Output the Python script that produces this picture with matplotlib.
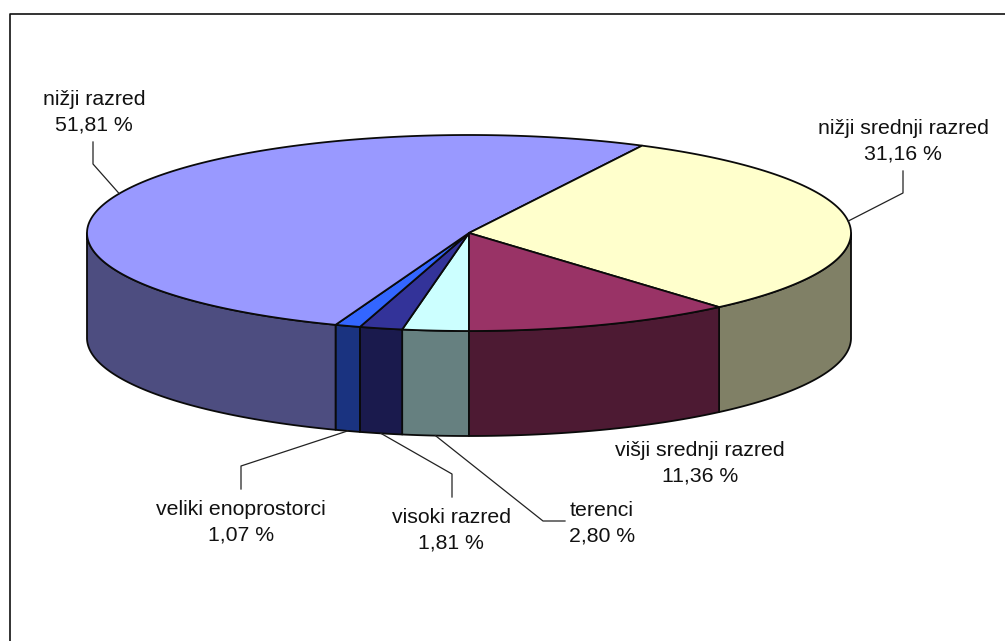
import numpy as np
import matplotlib
matplotlib.use('Agg')
import matplotlib.pyplot as plt

plt.rcParams['font.family'] = ['Liberation Sans', 'DejaVu Sans']

# slices go clockwise, starting at the front of the pie
razredi = ['terenci', 'visoki razred', 'veliki enoprostorci', 'nižji razred',
           'nižji srednji razred', 'višji srednji razred']
deleži = [2.80, 1.81, 1.07, 51.81, 31.16, 11.36]
barve_zgoraj = ['#CCFFFF', '#333399', '#3366FF', '#9999FF', '#FFFFCC', '#993366']
barve_stran = ['#668080', '#1A1A4D', '#1A3380', '#4D4D80', '#808066', '#4D1A33']

# label centre and leader line (knee, end) per slice, None means no leader
napisi = [(602, 523), (451, 530), (241, 522), (94, 112), (903, 141), (700, 463)]
vodila = [[(543, 521), (565, 521)], [(452, 474), (452, 497)], [(241, 466), (241, 489)],
          [(93, 164), (93, 142)], [(903, 193), (903, 171)], None]

cx, cy, a, b, visina = 469, 233, 382, 98, 105


def tocka(t, dy=0):
    return cx - a * np.sin(t), cy + b * np.cos(t) + dy


fig = plt.figure(figsize=(10.05, 6.41), dpi=100)
ax = fig.add_axes([0, 0, 1, 1])
ax.set_xlim(0, 1005)
ax.set_ylim(641, 0)
ax.axis('off')

# chart area frame, only top and left show
ax.plot([10, 10, 1005], [641, 14, 14], color='#111111', lw=1.2, solid_capstyle='butt')

meje = np.radians(np.concatenate([[0], np.cumsum(deleži)]) * 3.6 * 100 / sum(deleži))

# outer wall of the front half
for i in range(len(deleži)):
    for lo, hi in [(0, np.pi / 2), (3 * np.pi / 2, 2 * np.pi)]:
        t0, t1 = max(meje[i], lo), min(meje[i + 1], hi)
        if t0 >= t1:
            continue
        t = np.linspace(t0, t1, 120)
        x, y = tocka(t)
        xs = np.concatenate([x, x[::-1]])
        ys = np.concatenate([y, (y + visina)[::-1]])
        ax.fill(xs, ys, facecolor=barve_stran[i], edgecolor='#0A0A0A', lw=1.3, joinstyle='round')

# top face
for i in range(len(deleži)):
    t = np.linspace(meje[i], meje[i + 1], 200)
    x, y = tocka(t)
    ax.fill(np.concatenate([[cx], x]), np.concatenate([[cy], y]),
            facecolor=barve_zgoraj[i], edgecolor='#0A0A0A', lw=1.3, joinstyle='round')

# labels and leaders
for i, razred in enumerate(razredi):
    odstotek = f'{deleži[i]:.2f}'.replace('.', ',') + ' %'
    ax.text(napisi[i][0], napisi[i][1], f'{razred}\n{odstotek}', ha='center', va='center',
            fontsize=15.3, color='#111111', linespacing=1.42)
    if vodila[i] is None:
        continue
    sredina = (meje[i] + meje[i + 1]) / 2
    spredaj = np.cos(sredina) > 0 and i < 3
    x0, y0 = tocka(sredina, visina if spredaj else 0)
    pot = [(x0, y0)] + vodila[i]
    ax.plot([p[0] for p in pot], [p[1] for p in pot], color='#222222', lw=0.9)

fig.savefig('out.png', dpi=100)
